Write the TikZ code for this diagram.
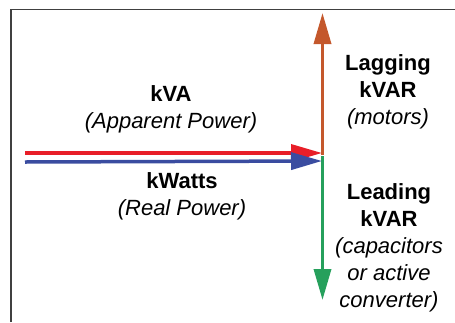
\documentclass[tikz,border=0pt]{standalone}
\usepackage{fontspec}
\setmainfont{Liberation Sans}
\usetikzlibrary{arrows.meta}

\definecolor{kvared}{RGB}{232,30,40}
\definecolor{wattblue}{RGB}{58,76,160}
\definecolor{lagorange}{RGB}{196,88,44}
\definecolor{leadgreen}{RGB}{38,160,92}

\begin{document}
\begin{tikzpicture}[
				x=1pt, y=-1pt,
				every node/.style={align=center, inner sep=0pt, font=\fontsize{22}{27}\selectfont},
				vector/.style={line width=3.5pt, -{Triangle[length=31pt, width=17pt]}},
				frameline/.style={draw=black!75, line width=1.5pt}
				]
				
				\useasboundingbox (0,0) rectangle (455,322);
				\draw[frameline] (11,322) -- (11,9.5) -- (455,9.5);
				
				% labels
				\node (kva) at (171,109) {\textbf{kVA}\\\textit{(Apparent Power)}};
				\node (kwatts) at (182,196) {\textbf{kWatts}\\\textit{(Real Power)}};
				\node (lagging) at (388,92) {\textbf{Lagging}\\\textbf{kVAR}\\\textit{(motors)}};
				\node (leading) at (389,248) {\textbf{Leading}\\\textbf{kVAR}\\\textit{(capacitors}\\\textit{or active}\\\textit{converter)}};
				
				% vectors
				\coordinate (redstart) at (25,153);
				\coordinate (redtip) at (322,153);
				\coordinate (bluestart) at (25,162);
				\coordinate (bluetip) at (322,161);
				\coordinate (upper) at (322.5,155);
				\coordinate (uptip) at (322.5,13);
				\coordinate (lower) at (322.5,156);
				\coordinate (downtip) at (322.5,300);
				
				\draw[vector, lagorange] (upper) -- (uptip);
				\draw[vector, leadgreen] (lower) -- (downtip);
				\draw[vector, kvared] (redstart) -- (redtip);
				\draw[vector, wattblue] (bluestart) -- (bluetip);
				
			\end{tikzpicture}
\end{document}
